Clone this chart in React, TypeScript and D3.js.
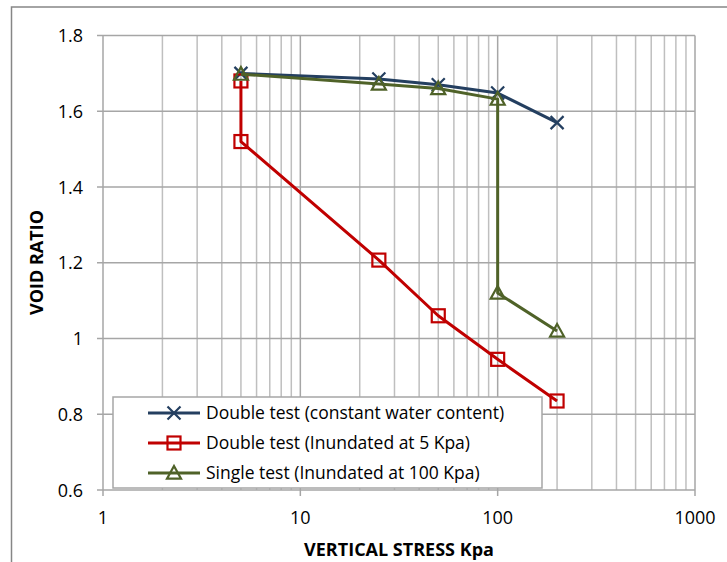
import React from "react";
import * as d3 from "d3";

const blueX = [5, 25, 50, 100, 200];
const blueY = [1.7, 1.685, 1.67, 1.648, 1.57];
const redX = [5, 5, 25, 50, 100, 200];
const redY = [1.68, 1.52, 1.207, 1.06, 0.945, 0.835];
const greenX = [5, 25, 50, 100, 100, 200];
const greenY = [1.698, 1.672, 1.66, 1.632, 1.12, 1.02];
const yTicks = [0.6, 0.8, 1, 1.2, 1.4, 1.6, 1.8];
const xTicks = [1, 10, 100, 1000];
const seriesNames = [
  "Double test (constant water content)",
  "Double test (Inundated at 5 Kpa)",
  "Single test (Inundated at 100 Kpa)",
];

const W = 727, H = 562;
const FONT = "Open Sans, Noto Sans, sans-serif";

export default function App() {
  const x = d3.scaleLog().domain([1, 1000]).range([103, 695]);
  const y = d3.scaleLinear().domain([0.6, 1.8]).range([490, 35.5]);
  const minor: number[] = [];
  for (const d of [1, 10, 100]) for (let k = 2; k <= 9; k++) minor.push(d * k);
  const line = d3.line<[number, number]>().x(p => x(p[0])).y(p => y(p[1]));
  const series = [
    { xs: blueX, ys: blueY, color: "#243f60", marker: "x" },
    { xs: redX, ys: redY, color: "#c00000", marker: "sq" },
    { xs: greenX, ys: greenY, color: "#4f6228", marker: "tri" },
  ];
  const marker = (m: string, cx: number, cy: number, color: string, key: any) => {
    if (m === "x") {
      const s = 6.5;
      return (
        <path key={key} d={`M${cx - s},${cy - s}L${cx + s},${cy + s}M${cx - s},${cy + s}L${cx + s},${cy - s}`} stroke={color} strokeWidth={2.2} fill="none" />
      );
    }
    if (m === "sq") {
      const s = 6.5;
      return <rect key={key} x={cx - s} y={cy - s} width={2 * s} height={2 * s} fill="#fff" fillOpacity={0} stroke={color} strokeWidth={2.2} />;
    }
    const s = 7;
    return (
      <path key={key} d={`M${cx},${cy - s}L${cx + s},${cy + s * 0.8}L${cx - s},${cy + s * 0.8}Z`} fill="#fff" fillOpacity={0} stroke={color} strokeWidth={2.2} />
    );
  };
  return (
    <svg width={W} height={H} style={{ position: "absolute", left: 0, top: 0, background: "#fff" }}>
      <rect x={0} y={0} width={W} height={H} fill="#fff" />
      <rect x={11.5} y={7} width={W + 20} height={H + 20} fill="none" stroke="#868686" strokeWidth={1.5} />
      {/* grid */}
      {minor.map((v, i) => (
        <line key={"m" + i} x1={x(v)} x2={x(v)} y1={y(1.8)} y2={y(0.6)} stroke="#bfbfbf" strokeWidth={1.5} />
      ))}
      {xTicks.map((v, i) => (
        <line key={"M" + i} x1={x(v)} x2={x(v)} y1={y(1.8)} y2={y(0.6) + 6} stroke="#a6a6a6" strokeWidth={1.5} />
      ))}
      {yTicks.map((v, i) => (
        <line key={"h" + i} x1={x(1) - 6} x2={x(1000)} y1={y(v)} y2={y(v)} stroke="#a6a6a6" strokeWidth={1.5} />
      ))}
      {/* tick labels */}
      {yTicks.map((v, i) => (
        <text key={"yt" + i} x={83} y={y(v) + 6.5} textAnchor="end" fontFamily={FONT} fontSize={18} fill="#000">
          {String(v)}
        </text>
      ))}
      {xTicks.map((v, i) => (
        <text key={"xt" + i} x={x(v)} y={524} textAnchor="middle" fontFamily={FONT} fontSize={18} fill="#000">
          {String(v)}
        </text>
      ))}
      <text x={399} y={556} textAnchor="middle" fontFamily={FONT} fontWeight="bold" fontSize={18} fill="#000">
        VERTICAL STRESS Kpa
      </text>
      <text transform={`translate(43,262.5) rotate(-90)`} textAnchor="middle" fontFamily={FONT} fontWeight="bold" fontSize={18} fill="#000">
        VOID RATIO
      </text>
      {/* series */}
      {series.map((s, i) => {
        const pts = s.xs.map((v, j) => [v, s.ys[j]] as [number, number]);
        return (
          <g key={"s" + i}>
            <path d={line(pts) || ""} fill="none" stroke={s.color} strokeWidth={3} strokeLinejoin="round" />
            {pts.map((p, j) => marker(s.marker, x(p[0]), y(p[1]), s.color, j))}
          </g>
        );
      })}
      {/* legend */}
      <rect x={113} y={397} width={429} height={91} fill="#fff" stroke="#a6a6a6" strokeWidth={1.5} />
      {series.map((s, i) => {
        const ly = 413 + i * 30;
        return (
          <g key={"l" + i}>
            <line x1={148} x2={200} y1={ly} y2={ly} stroke={s.color} strokeWidth={3} />
            {marker(s.marker, 174, ly, s.color, "lm")}
            <text x={206} y={ly + 6} fontFamily={FONT} fontSize={17.5} fill="#000">
              {seriesNames[i]}
            </text>
          </g>
        );
      })}
    </svg>
  );
}
